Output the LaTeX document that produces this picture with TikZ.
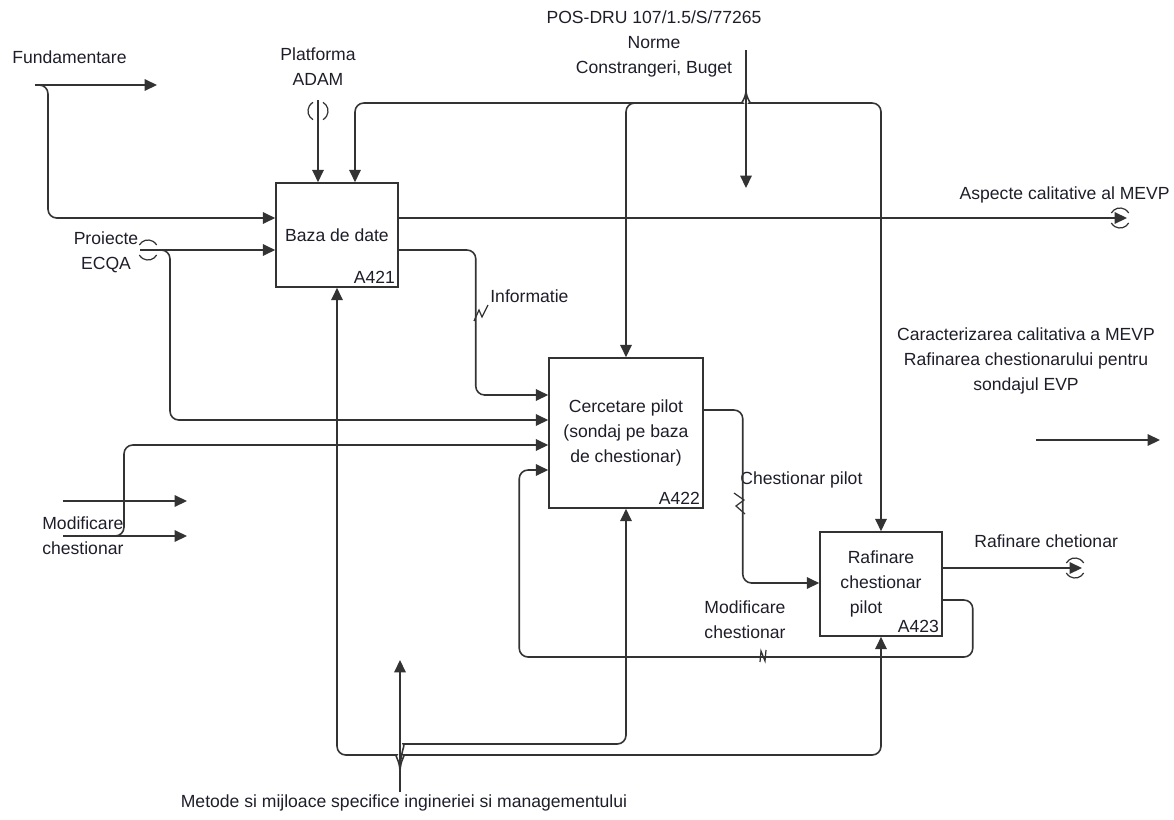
\documentclass[tikz,border=0pt]{standalone}
\usepackage{xcolor}
\usepackage{fontspec}
\setmainfont{Liberation Sans}
\usepackage{tikz}
\usetikzlibrary{arrows.meta, calc}
\definecolor{linegray}{HTML}{333333}
\definecolor{textdark}{HTML}{1E1E2A}
\newcommand{\lblfont}{\fontsize{10}{14.2}\selectfont}
\tikzset{
    actbox/.style={
        rectangle, draw=linegray, fill=white, line width=0.9pt,
        minimum width=2.44cm, minimum height=2.08cm,
        font=\lblfont, text=textdark, align=center, inner sep=2pt
    },
    boxid/.style={
        font=\lblfont, text=textdark, anchor=south east, inner sep=2pt
    },
    flowarrow/.style={
        -{Triangle[length=7pt, width=6.5pt]}, line width=0.9pt,
        color=linegray, rounded corners=5pt
    },
    arrowlabel/.style={
        font=\lblfont, text=textdark, align=center, inner sep=0pt
    },
    squiggle/.style={line width=0.7pt, color=linegray},
    tunnelmark/.style={line width=0.7pt, color=linegray},
}
% tunnel marks: arcs above/below a horizontal arrow, left/right of a vertical one
\newcommand{\tunnelh}[1]{%
    \draw[tunnelmark] ($(#1)+(-8.66,-5)$) arc[start angle=210, end angle=330, radius=10];
    \draw[tunnelmark] ($(#1)+(8.66,5)$) arc[start angle=30, end angle=150, radius=10];
}
\newcommand{\tunnelv}[1]{%
    \draw[tunnelmark] ($(#1)+(-5,8.66)$) arc[start angle=120, end angle=240, radius=10];
    \draw[tunnelmark] ($(#1)+(5,-8.66)$) arc[start angle=-60, end angle=60, radius=10];
}

\begin{document}
\begin{tikzpicture}[x=0.02cm, y=-0.02cm]

    \useasboundingbox (0,0) rectangle (1174,819);

    % Activity boxes
    \node[actbox] (baza) at (337,235) {Baza de date};
    \node[boxid] at (baza.south east) {A421};
    \node[actbox, minimum width=3.08cm, minimum height=3cm] (cerc) at (626,433) {Cercetare pilot\\(sondaj pe baza\\de chestionar)};
    \node[boxid] at (cerc.south east) {A422};
    \node[actbox] (rafin) at (881,584) {Rafinare\\chestionar\\\mbox{pilot\hspace*{17pt}}};
    \node[boxid] at (rafin.south east) {A423};

    % Free ends
    \coordinate (fundstart) at (35,85);
    \coordinate (fundend) at (157,85);
    \coordinate (ecqa) at (140,250);
    \coordinate (ecqamark) at (148,250);
    \coordinate (adamtail) at (318,100);
    \coordinate (adammark) at (318,111);
    \coordinate (ctltop) at (746,50);
    \coordinate (ctlend) at (746,188);
    \coordinate (ctlsplit) at (746,90);
    \coordinate (ctlleft) at (734,103);
    \coordinate (ctlright) at (758,103);
    \coordinate (aspend) at (1127,218);
    \coordinate (aspmark) at (1120,218);
    \coordinate (rafend) at (1082,568);
    \coordinate (rafmark) at (1075,568);
    \coordinate (carstart) at (1036,440);
    \coordinate (carend) at (1160,440);
    \coordinate (modAstart) at (63,501);
    \coordinate (modAend) at (187,501);
    \coordinate (modBstart) at (63,536);
    \coordinate (modBend) at (187,536);
    \coordinate (modtap) at (100,536);
    \coordinate (mechbot) at (400,792);
    \coordinate (mechend) at (400,660);
    \coordinate (mechsplit) at (400,772);
    \coordinate (mechleft) at (388,755);
    \coordinate (mechright) at (412,755);
    \coordinate (mechup) at (412,744);

    % Labels
    \node[arrowlabel, anchor=west] (fundlab) at (12,57) {Fundamentare};
    \node[arrowlabel] (adamlab) at (318,67) {Platforma\\ADAM};
    \node[arrowlabel] (ecqalab) at (106,252) {Proiecte\\ECQA};
    \node[arrowlabel] (ctllab) at (654,44) {POS-DRU 107/1.5/S/77265\\Norme\\Constrangeri, Buget};
    \node[arrowlabel, anchor=east] (asplab) at (1170,195) {Aspecte calitative al MEVP};
    \node[arrowlabel, anchor=west] (infolab) at (490,296) {Informatie};
    \node[arrowlabel] (carlab) at (1026,361) {Caracterizarea calitativa a MEVP\\Rafinarea chestionarului pentru\\sondajul EVP};
    \node[arrowlabel, anchor=west] (chestlab) at (740,480) {Chestionar pilot};
    \node[arrowlabel, anchor=west] (raflab) at (974,541) {Rafinare chetionar};
    \node[arrowlabel] (modlab) at (745,620) {Modificare\\chestionar};
    \node[arrowlabel, align=left, anchor=west] (modleftlab) at (42,536) {Modificare\\chestionar};
    \node[arrowlabel] (mechlab) at (404,803) {Metode si mijloace specifice ingineriei si managementului};

    % Inputs
    \draw[flowarrow] (fundstart) -- (fundend);
    \draw[flowarrow] (fundstart) -- ++(13,0) |- ($(baza.west)+(0,-17)$);
    \draw[flowarrow] (ecqa) -- ($(baza.west)+(0,15)$);
    \draw[flowarrow] (ecqa) -- ++(30,0) |- ($(cerc.west)+(0,-13)$);
    \draw[flowarrow] (modAstart) -- (modAend);
    \draw[flowarrow] (modBstart) -- (modBend);
    \draw[flowarrow] (modtap) -- ++(24,0) |- ($(cerc.west)+(0,12)$);
    \draw[flowarrow] (carstart) -- (carend);

    % Controls
    \draw[flowarrow] (adamtail) -- ($(baza.north)+(-19,0)$);
    \draw[flowarrow] (ctltop) -- (ctlend);
    \draw[flowarrow] (ctlsplit) .. controls +(0,9) and +(6,0) .. (ctlleft) -| ($(baza.north)+(18,0)$);
    \draw[flowarrow] (ctlleft) -| (cerc.north);
    \draw[flowarrow] (ctlsplit) .. controls +(0,9) and +(-6,0) .. (ctlright) -| (rafin.north);

    % Between activities
    \draw[flowarrow] ($(baza.east)+(0,15)$) -- ++(77,0) |- ($(cerc.west)+(0,-38)$);
    \draw[flowarrow] ($(cerc.east)+(0,-23)$) -- ++(39,0) |- ($(rafin.west)+(0,-1)$);
    \draw[flowarrow] ($(rafin.east)+(0,16)$) -- ++(30,0) |- ($(cerc.west)+(-29,224)$) |- ($(cerc.west)+(0,37)$);

    % Outputs
    \draw[flowarrow] ($(baza.east)+(0,-17)$) -- (aspend);
    \draw[flowarrow] ($(rafin.east)+(0,-16)$) -- (rafend);

    % Mechanisms
    \draw[flowarrow] (mechbot) -- (mechend);
    \draw[flowarrow] (mechsplit) .. controls +(0,-12) and +(6,0) .. (mechleft) -| (baza.south);
    \draw[flowarrow] (mechsplit) .. controls +(0,-12) and +(-6,0) .. (mechright) -| (rafin.south);
    \draw[flowarrow] (mechsplit) .. controls +(0,-20) and +(-6,0) .. (mechup) -| (cerc.south);

    % Tunnels
    \tunnelv{adammark}
    \tunnelh{ecqamark}
    \tunnelh{aspmark}
    \tunnelh{rafmark}

    % Squiggles
    \draw[squiggle] (474,321) -- (479,310) -- (482,317) -- (488,305);
    \draw[squiggle] (734,493) -- (744,500) -- (736,506) -- (745,514);
    \draw[squiggle] (760,662) -- (761,651) -- (765,661) -- (766,650);

\end{tikzpicture}
\end{document}
